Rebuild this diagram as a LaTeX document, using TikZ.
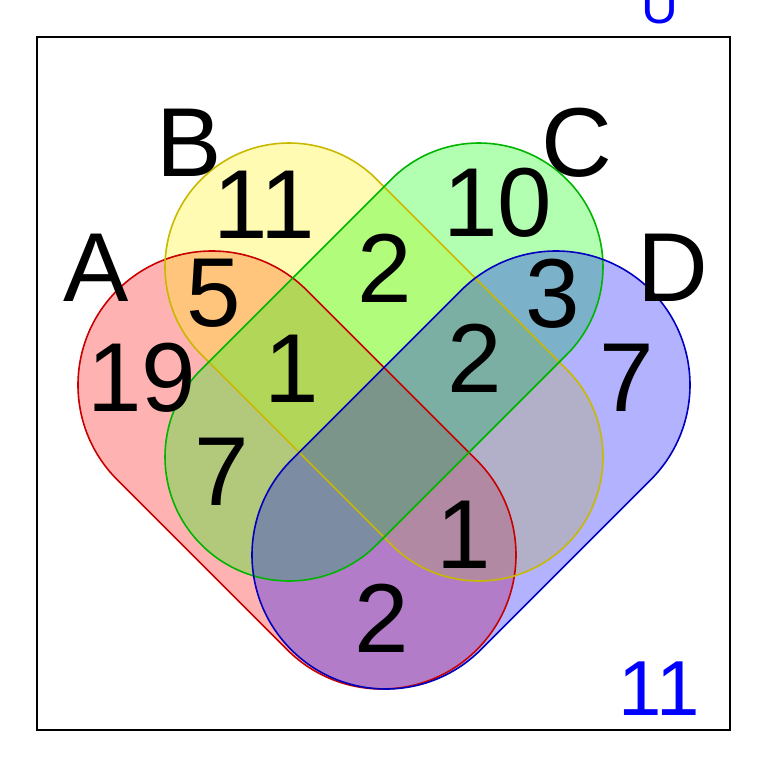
\documentclass[tikz,border=0pt]{standalone}
\usepackage{fontspec}
\setmainfont{Liberation Sans}
\usetikzlibrary{positioning}

\definecolor{lineA}{RGB}{200,0,0}
\definecolor{lineB}{RGB}{200,185,0}
\definecolor{lineC}{RGB}{0,180,0}
\definecolor{lineD}{RGB}{0,0,190}

% rotated stadium: centre, angle, half length, radius, style
\newcommand{\vennset}[5]{%
	\begin{scope}[shift={(#1)}, rotate=#2]
		\path[#5] (-#3,-#4) -- (#3,-#4) arc[start angle=-90,end angle=90,radius=#4] -- (-#3,#4) arc[start angle=90,end angle=270,radius=#4] -- cycle;
	\end{scope}}

\begin{document}
\begin{tikzpicture}[x=1pt,y=1pt,
	setfill/.style={fill opacity=0.3},
	setline/.style={line width=1.6pt},
	lab/.style={anchor=base, inner sep=0pt, font=\fontsize{98}{98}\selectfont},
	cnt/.style={anchor=base, inner sep=0pt, text=blue, font=\fontsize{78}{78}\selectfont}]
	\useasboundingbox (0,0) rectangle (768,-768);
	
	% frame
	\draw[line width=2pt] (37,-37) rectangle (730,-730);
	
	% the four sets, fills first
	\vennset{297,-470}{-45}{120.2}{134}{setfill, fill=red}
	\vennset{384,-362}{-45}{134.35}{124}{setfill, fill=yellow}
	\vennset{384,-362}{45}{134.35}{124}{setfill, fill=green}
	\vennset{471,-470}{45}{120.2}{134}{setfill, fill=blue}
	% then outlines
	\vennset{297,-470}{-45}{120.2}{134}{setline, draw=lineA}
	\vennset{384,-362}{-45}{134.35}{124}{setline, draw=lineB}
	\vennset{384,-362}{45}{134.35}{124}{setline, draw=lineC}
	\vennset{471,-470}{45}{120.2}{134}{setline, draw=lineD}
	
	% set names
	\node[lab] (labA) at (96,-301) {A};
	\node[lab] (labB) at (189,-176) {B};
	\node[lab] (labC) at (577,-176) {C};
	\node[lab] (labD) at (673,-301) {D};
	
	% counts
	\node[lab] (nA) at (142,-411) {19};
	\node[lab] (nB) at (264,-238) {11};
	\node[lab] (nC) at (498,-236) {10};
	\node[lab] (nD) at (627,-411) {7};
	\node[lab] (nAB) at (214,-326) {5};
	\node[lab] (nBC) at (385,-302) {2};
	\node[lab] (nCD) at (553,-327) {3};
	\node[lab] (nABC) at (292,-402) {1};
	\node[lab] (nBCD) at (475,-392) {2};
	\node[lab] (nAC) at (222,-505) {7};
	\node[lab] (nABD) at (464,-568) {1};
	\node[lab] (nAD) at (382,-652) {2};
	
	% universe
	\node[cnt, font=\fontsize{51}{51}\selectfont] (labU) at (660,-24) {U};
	\node[cnt] (nU) at (659,-715) {11};
\end{tikzpicture}
\end{document}
